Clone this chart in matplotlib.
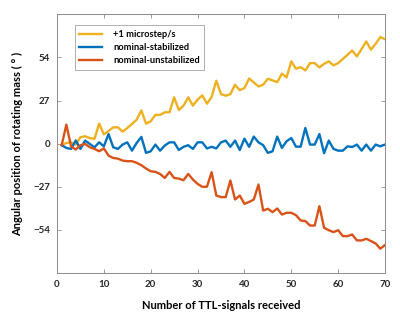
import numpy as np
import matplotlib
matplotlib.use('Agg')
import matplotlib.pyplot as plt

# signal index (1..70)
ttl = np.arange(1, 71)

# +1 microstep/s
microstep = [-1, 0.4, 0.8, -0.6, 4, 4.6, 3.5, 3, 12.5, 5.8,
             7.9, 10.2, 10.2, 7.5, 9.8, 12.3, 15, 20.8, 12.5, 14,
             18, 18, 19.6, 19.6, 29, 21, 23.8, 29, 23.8, 27.5,
             30.2, 25, 29.2, 39.4, 31, 30, 31, 36.9, 33.5, 34.8,
             40.8, 38.3, 35.8, 36.9, 40.6, 39.6, 38.5, 43.8, 41.5, 51.5,
             46.9, 47.9, 45.8, 50.4, 50.4, 47.7, 50, 51.5, 49, 50.4,
             53, 55.6, 58.3, 54.6, 59.2, 64, 58.8, 62.5, 66.7, 65.4]

# nominal-stabilized
stabilized = [-1, -2.7, -3.3, 2, -3.3, 1.9, -0.2, -2.3, 0.8, -1.7,
              6, -2.3, -3.3, -0.6, 0.8, -4.4, 0.4, 4.2, -5.8, -4.8,
              -0.6, -4.4, -1.2, 0.8, 0.8, -4, -2, -1, -3.3, 0.8,
              0.8, -3, -2, -3, 0.8, 1.9, -2, 1.9, -4, 3.1,
              -2, 4.4, 0.8, -1, -5.8, -4.8, 4.4, -2.7, 1.5, 3.5,
              -1.9, -1.9, 9.8, -0.6, -0.6, 6, -6, 1.9, -3.3, -4.4,
              -4.4, -1.7, -2.1, -0.6, -4.4, -0.6, -4.4, -0.6, -1.7, -0.6]

# nominal-unstabilized
unstabilized = [-1, 11.9, -1.7, -3.7, -1, -0.2, -2.3, -3.3, -4.8, -3,
                -7.5, -9, -9.4, -10.6, -11, -11, -12, -13.5, -15.6, -17.3,
                -17.7, -19, -21.5, -17.7, -21.5, -21.9, -22.9, -19, -22.5, -25.2,
                -27, -27, -17.9, -32.5, -33.5, -33.5, -23.1, -35, -32.5, -37.7,
                -36.5, -35, -25.6, -41.9, -40.8, -42.9, -40.6, -44.4, -43.3, -43.3,
                -44.8, -48.1, -48.5, -51.3, -51.3, -39.2, -52.7, -54.2, -55.4, -54.2,
                -57.9, -57.9, -56.9, -60.6, -60.6, -59.6, -61, -62.5, -65.8, -63.5]

x_ticks = [0, 10, 20, 30, 40, 50, 60, 70]
y_ticks = [-54, -27, 0, 27, 54]

plt.rcParams['font.family'] = ['Lato', 'DejaVu Sans']
plt.rcParams['font.weight'] = 'bold'

fig = plt.figure(figsize=(4.0, 3.14), dpi=100)
ax = fig.add_axes([0.1425, 0.1306, 0.82, 0.824])

ax.plot(ttl, microstep, color='#EDB120', lw=1.7, label='+1 microstep/s')
ax.plot(ttl, stabilized, color='#0072BD', lw=1.7, label='nominal-stabilized')
ax.plot(ttl, unstabilized, color='#D95319', lw=1.7, label='nominal-unstabilized')

ax.set_xlim(0, 70)
ax.set_ylim(-81, 81)
ax.set_xticks(x_ticks)
ax.set_yticks(y_ticks)
ax.tick_params(direction='in', top=True, right=True, length=3, width=0.6,
               colors='#8c8c8c', labelcolor='#262626', labelsize=7, pad=5)
for lbl in ax.get_xticklabels() + ax.get_yticklabels():
    lbl.set_fontweight('bold')
for s in ax.spines.values():
    s.set_color('#8c8c8c')
    s.set_linewidth(0.7)

ax.set_xlabel('Number of TTL-signals received', fontsize=8, fontweight='bold', labelpad=8)
ax.set_ylabel('Angular position of rotating mass ( ° )', fontsize=8, fontweight='bold', labelpad=7)

leg = ax.legend(loc='upper left', bbox_to_anchor=(0.04, 0.975), fontsize=6.7,
                frameon=True, fancybox=False, edgecolor='#8c8c8c', handlelength=2.4,
                borderpad=0.5, labelspacing=0.45, handletextpad=1.2)
leg.get_frame().set_linewidth(0.6)
for t in leg.get_texts():
    t.set_fontweight('bold')

fig.savefig('out.png', dpi=100)
